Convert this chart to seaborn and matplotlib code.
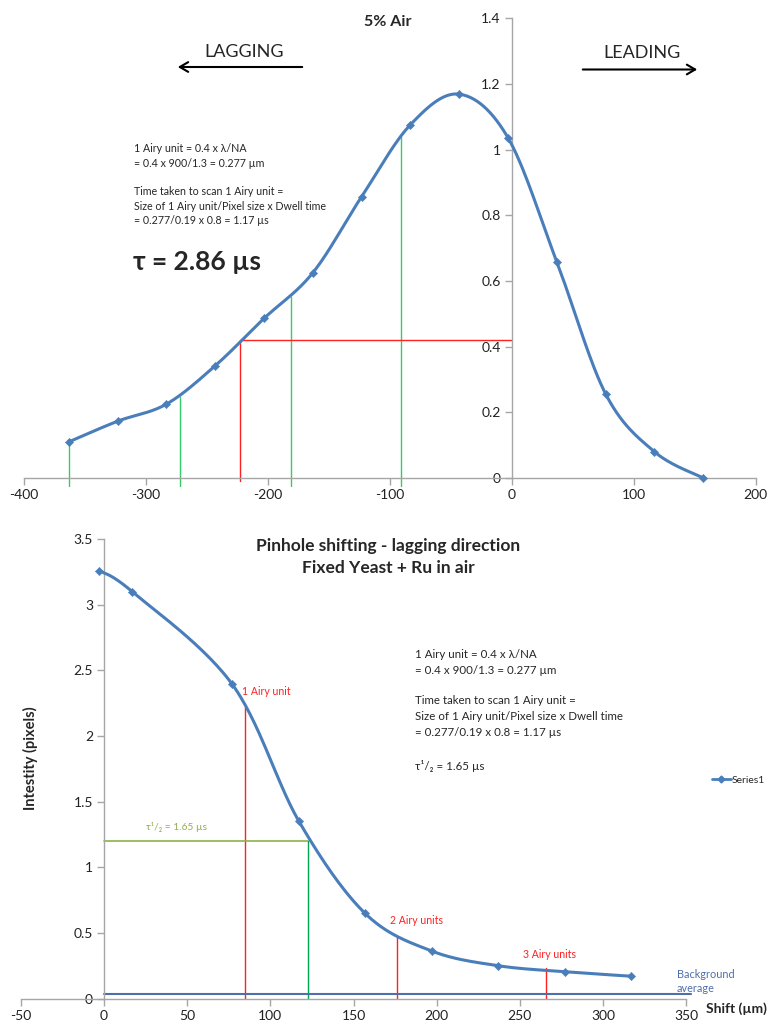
import numpy as np
import pandas as pd
import matplotlib
matplotlib.use("Agg")
import matplotlib.pyplot as plt
from matplotlib.lines import Line2D
import seaborn as sns

# ---------------- data ----------------
top_shift = [-363, -323, -283, -243, -203, -163, -123, -83, -43, -3, 37, 77, 117, 157]
top_value = [0.11, 0.173, 0.225, 0.342, 0.486, 0.625, 0.857, 1.076, 1.169, 1.036, 0.658, 0.256, 0.08, 0.0]
top_green_x = [-363, -272, -181, -91]
top_green_top = [0.11, 0.246, 0.552, 1.04]
top_red_x = -223
top_red_y = 0.42

bot_shift = [-3, 17, 77, 117, 157, 197, 237, 277, 317]
bot_value = [3.26, 3.098, 2.395, 1.355, 0.65, 0.364, 0.252, 0.206, 0.172]
bot_red_x = [85, 176, 266]
bot_red_top = [2.22, 0.478, 0.234]
bot_half_x = 122.5
bot_half_y = 1.2
bot_background = 0.04

top_xticks = [-400, -300, -200, -100, 0, 100, 200]
top_yticks = [0, 0.2, 0.4, 0.6, 0.8, 1.0, 1.2, 1.4]
bot_xticks = [-50, 0, 50, 100, 150, 200, 250, 300, 350]
bot_yticks = [0, 0.5, 1.0, 1.5, 2.0, 2.5, 3.0, 3.5]

# ---------------- style ----------------
sns.set_style("white")
plt.rcParams['font.family'] = ['Lato', 'DejaVu Sans']
plt.rcParams['axes.unicode_minus'] = False

BLUE = '#4A7EBB'
GRAY = '#A6A6A6'
GREEN_T = '#33CC66'
GREEN_B = '#00A550'
OLIVE = '#8DB04A'
RED = '#FF2020'
BGBLUE = '#4F6FA8'
W, H = 769, 1027


def fx(x):
    return x / W


def fy(y):
    return 1 - y / H


def smooth(xs, ys, n=30):
    """Excel-like smoothed line (Catmull-Rom Bezier through the points)."""
    p = np.column_stack([xs, ys]).astype(float)
    out = []
    for i in range(len(p) - 1):
        p0 = p[i - 1] if i > 0 else p[i]
        p1, p2 = p[i], p[i + 1]
        p3 = p[i + 2] if i + 2 < len(p) else p[i + 1]
        c1 = p1 + (p2 - p0) / 6
        c2 = p2 - (p3 - p1) / 6
        t = np.linspace(0, 1, n, endpoint=False)[:, None]
        seg = ((1 - t) ** 3) * p1 + 3 * ((1 - t) ** 2) * t * c1 + 3 * (1 - t) * t ** 2 * c2 + t ** 3 * p2
        out.append(seg)
    out.append(p[-1][None, :])
    arr = np.vstack(out)
    return pd.DataFrame({'x': arr[:, 0], 'y': arr[:, 1]})


def style_axes(ax):
    for s in ['top', 'right']:
        ax.spines[s].set_visible(False)
    ax.spines['left'].set_position(('data', 0))
    ax.spines['left'].set_color(GRAY)
    ax.spines['bottom'].set_color(GRAY)
    ax.spines['left'].set_linewidth(1)
    ax.spines['bottom'].set_linewidth(1)
    ax.tick_params(bottom=True, left=True, direction='out', length=5, width=1, color=GRAY,
                   labelsize=10, labelcolor='#222222', pad=3)
    ax.yaxis.set_major_formatter(matplotlib.ticker.FuncFormatter(lambda v, p: f"{v:g}"))
    ax.xaxis.set_major_formatter(matplotlib.ticker.FuncFormatter(lambda v, p: f"{v:g}"))
    ax.grid(False)
    ax.set_facecolor('none')


fig = plt.figure(figsize=(W / 100, H / 100), dpi=100)

# ---------------- top chart ----------------
ax1 = fig.add_axes([fx(23.7), fy(478), fx(755.7) - fx(23.7), fy(18.3) - fy(478)])
style_axes(ax1)
ax1.set_xlim(-400, 200)
ax1.set_ylim(0, 1.4)
ax1.set_xticks(top_xticks)
ax1.set_yticks(top_yticks)

for gx, gt in zip(top_green_x, top_green_top):
    ax1.plot([gx, gx], [-0.025, gt], color=GREEN_T, lw=1, clip_on=False, zorder=2)
ax1.plot([top_red_x, top_red_x], [-0.01, top_red_y], color=RED, lw=1, clip_on=False, zorder=2)
ax1.plot([top_red_x, 0], [top_red_y, top_red_y], color=RED, lw=1, zorder=2)

sns.lineplot(data=smooth(top_shift, top_value), x='x', y='y', ax=ax1, color=BLUE,
             lw=2.2, sort=False, estimator=None, zorder=3)
sns.scatterplot(x=top_shift, y=top_value, ax=ax1, color=BLUE, marker='D', s=18,
                edgecolor=BLUE, zorder=4, clip_on=False)
ax1.set_xlabel('')
ax1.set_ylabel('')

fig.text(fx(388), fy(22), '5% Air', ha='center', va='center', fontsize=11.5, fontweight='bold')
fig.text(fx(244), fy(52), 'LAGGING', ha='center', va='center', fontsize=13)
fig.text(fx(642), fy(53), 'LEADING', ha='center', va='center', fontsize=13)
fig.patches.append(matplotlib.patches.FancyArrowPatch(
    (fx(305), fy(67)), (fx(175), fy(67)), transform=fig.transFigure,
    arrowstyle='->,head_length=6,head_width=3.5', lw=1.5, color='black', mutation_scale=1))
fig.patches.append(matplotlib.patches.FancyArrowPatch(
    (fx(580), fy(69.5)), (fx(700), fy(69.5)), transform=fig.transFigure,
    arrowstyle='->,head_length=6,head_width=3.5', lw=1.5, color='black', mutation_scale=1))

top_lines = [(148.5, '1 Airy unit = 0.4 x λ/NA'),
             (163.5, '= 0.4 x 900/1.3 = 0.277 µm'),
             (191.5, 'Time taken to scan 1 Airy unit ='),
             (206, 'Size of 1 Airy unit/Pixel size x Dwell time'),
             (220, '= 0.277/0.19 x 0.8 = 1.17 µs')]
for y, t in top_lines:
    fig.text(fx(134), fy(y), t, ha='left', va='center', fontsize=7.65)
fig.text(fx(133), fy(262), 'τ = 2.86 µs', ha='left', va='center', fontsize=19, fontweight='bold')

# ---------------- bottom chart ----------------
ax2 = fig.add_axes([fx(21), fy(998.8), fx(686) - fx(21), fy(539) - fy(998.8)])
style_axes(ax2)
ax2.set_xlim(-50, 350)
ax2.set_ylim(0, 3.5)
ax2.set_xticks(bot_xticks)
ax2.set_yticks(bot_yticks)

for rx, rt in zip(bot_red_x, bot_red_top):
    ax2.plot([rx, rx], [0, rt], color=RED, lw=1, zorder=2)
ax2.plot([0, bot_half_x], [bot_half_y, bot_half_y], color=OLIVE, lw=1.2, zorder=2)
ax2.plot([bot_half_x, bot_half_x], [0, bot_half_y], color=GREEN_B, lw=1, zorder=2)
ax2.plot([0, 353], [bot_background, bot_background], color=BGBLUE, lw=1.5,
         zorder=2, clip_on=False)

sns.lineplot(data=smooth(bot_shift, bot_value), x='x', y='y', ax=ax2, color=BLUE,
             lw=2.2, sort=False, estimator=None, zorder=3)
sns.scatterplot(x=bot_shift, y=bot_value, ax=ax2, color=BLUE, marker='D', s=18,
                edgecolor=BLUE, zorder=4, clip_on=False)
ax2.set_xlabel('')
ax2.set_ylabel('')

fig.text(fx(388), fy(546), 'Pinhole shifting - lagging direction', ha='center', va='center',
         fontsize=12.5, fontweight='bold')
fig.text(fx(388), fy(568), 'Fixed Yeast + Ru in air', ha='center', va='center',
         fontsize=12.5, fontweight='bold')
fig.text(fx(30), fy(758), 'Intestity (pixels)', ha='center', va='center', rotation=90,
         fontsize=10.5, fontweight='bold')
fig.text(fx(706), fy(1009), 'Shift (µm)', ha='left', va='center', fontsize=10, fontweight='bold')
fig.text(fx(677), fy(974), 'Background', ha='left', va='center', fontsize=7.8, color=BGBLUE)
fig.text(fx(677), fy(988), 'average', ha='left', va='center', fontsize=7.8, color=BGBLUE)

fig.text(fx(242), fy(691.5), '1 Airy unit', ha='left', va='center', fontsize=7.6, color=RED)
fig.text(fx(390), fy(921), '2 Airy units', ha='left', va='center', fontsize=7.6, color=RED)
fig.text(fx(523), fy(955), '3 Airy units', ha='left', va='center', fontsize=7.6, color=RED)
fig.text(fx(146), fy(827), 'τ¹/₂ = 1.65 µs', ha='left', va='center', fontsize=7.3, color=OLIVE)

bot_lines = [(654.5, '1 Airy unit = 0.4 x λ/NA'),
             (671, '= 0.4 x 900/1.3 = 0.277 µm'),
             (701, 'Time taken to scan 1 Airy unit ='),
             (716.5, 'Size of 1 Airy unit/Pixel size x Dwell time'),
             (732.5, '= 0.277/0.19 x 0.8 = 1.17 µs'),
             (765.5, 'τ¹/₂ = 1.65 µs')]
for y, t in bot_lines:
    fig.text(fx(415), fy(y), t, ha='left', va='center', fontsize=8.3)

handle = Line2D([], [], color=BLUE, lw=2, marker='D', markersize=3.5)
fig.legend(handles=[handle], labels=['Series1'], loc='center left',
           bbox_to_anchor=(fx(712), fy(780)), bbox_transform=fig.transFigure,
           frameon=False, fontsize=7.5, handlelength=1.8, handletextpad=0.1,
           borderpad=0, borderaxespad=0)

fig.savefig('out.png', dpi=100)
